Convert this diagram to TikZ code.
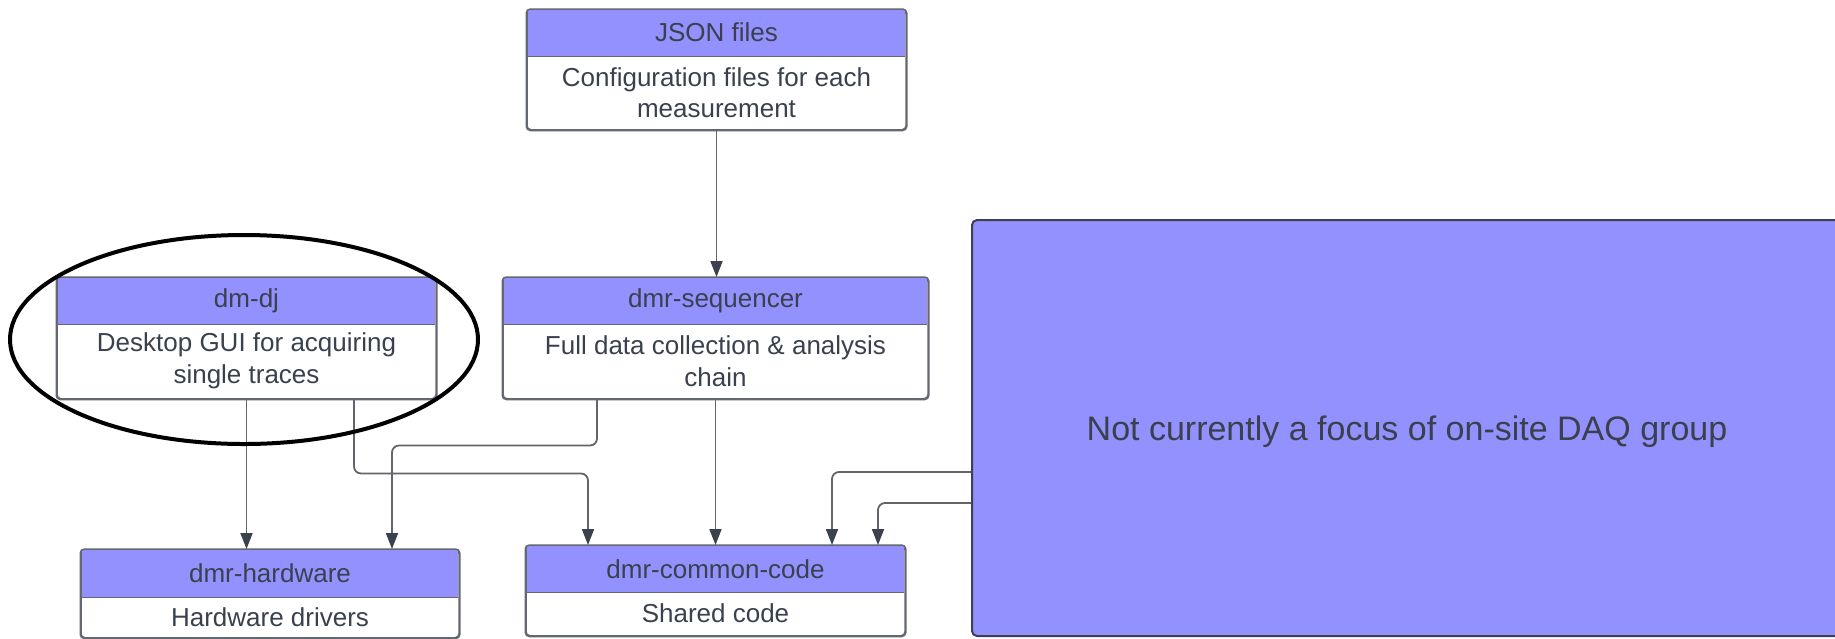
\documentclass[tikz,border=0pt]{standalone}
\usepackage{fontspec}
\setmainfont{Liberation Sans}
\usetikzlibrary{arrows.meta,calc}
\definecolor{headfill}{RGB}{147,145,253}
\definecolor{boxline}{RGB}{100,104,112}
\definecolor{txt}{RGB}{58,64,77}
\definecolor{connc}{RGB}{100,100,106}
\definecolor{arrowc}{RGB}{60,65,78}
\definecolor{bigline}{RGB}{60,64,82}
\tikzset{
  frame/.style={draw=boxline, line width=1.5pt, fill=white, rounded corners=4pt, inner sep=0pt},
  head/.style={fill=headfill, inner sep=0pt, text=txt, font=\fontsize{26}{31}\selectfont},
  bodytext/.style={align=center, inner sep=0pt, text=txt, font=\fontsize{26}{31.5}\selectfont},
  boxline/.style={draw=boxline, line width=1.5pt},
  conn/.style={draw=connc, line width=1.8pt, rounded corners=7pt,
    -{Triangle[length=16pt,width=12pt,color=arrowc]}},
  bigbox/.style={draw=bigline, line width=2pt, fill=headfill, rounded corners=5pt, inner sep=0pt},
  bigtext/.style={text=txt, font=\fontsize{34}{40}\selectfont, inner sep=0pt},
  ring/.style={draw=black, line width=4pt}
}
\newcommand\umlbox[8]{%
  \node[frame, minimum width=#6pt, minimum height={(#5-#3)*1pt}, anchor=north] (#1) at (#2,#3) {};
  \node[head, minimum width={(#6-1.5)*1pt}, minimum height={(#4-#3)*1pt}, anchor=north] (#1-h) at (#2,#3) {#7};
  \draw[boxline] (#1-h.south west) -- (#1-h.south east);
  \node[bodytext] (#1-b) at (#2,{(#4+#5)/2}) {#8};
  \draw[boxline, rounded corners=4pt] (#1.north west) rectangle (#1.south east);
}
\begin{document}
\begin{tikzpicture}[x=1pt,y=-1pt]
\useasboundingbox (0,0) rectangle (1835,638);
\clip (0,0) rectangle (1835,638);
\fill[white] (0,0) rectangle (1835,638);

% boxes
\umlbox{json}{716.5}{9}{56}{129}{379}{JSON files}{Configuration files for each\\measurement}
\umlbox{dmdj}{246.5}{277}{324}{398}{379}{dm-dj}{Desktop GUI for acquiring\\single traces}
\umlbox{seq}{715.5}{277}{324}{398}{425}{dmr-sequencer}{Full data collection \& analysis\\chain}
\umlbox{cc}{715.5}{545}{592}{635}{379}{dmr-common-code}{Shared code}
\umlbox{hw}{270}{549}{597}{637}{378}{dmr-hardware}{Hardware drivers}

% big box
\node[bigbox, minimum width=876pt, minimum height=416pt] (big) at (1410,428) {};
\node[bigtext] (bigt) at (1407,432) {Not currently a focus of on-site DAQ group};

% connectors
\draw[conn] (json.south) -- (json.south |- seq.north);
\draw[conn] (dmdj.south) -- (dmdj.south |- hw.north);
\draw[conn] ([xshift=107.5pt]dmdj.south) -- ++(0,74) -| ([xshift=-127.5pt]cc.north);
\draw[conn] ([xshift=-118.5pt]seq.south) -- ++(0,46) -| ([xshift=122pt]hw.north);
\draw[conn] (seq.south) -- (seq.south |- cc.north);
\draw[conn] ([yshift=-44pt]big.west) -| ([xshift=116.5pt]cc.north);
\draw[conn] ([yshift=-75pt]big.west) -| ([xshift=162.5pt]cc.north);

% hand-drawn ellipse around dm-dj
\draw[ring] (244,339.5) ellipse [x radius=234, y radius=104.5];
\end{tikzpicture}
\end{document}
